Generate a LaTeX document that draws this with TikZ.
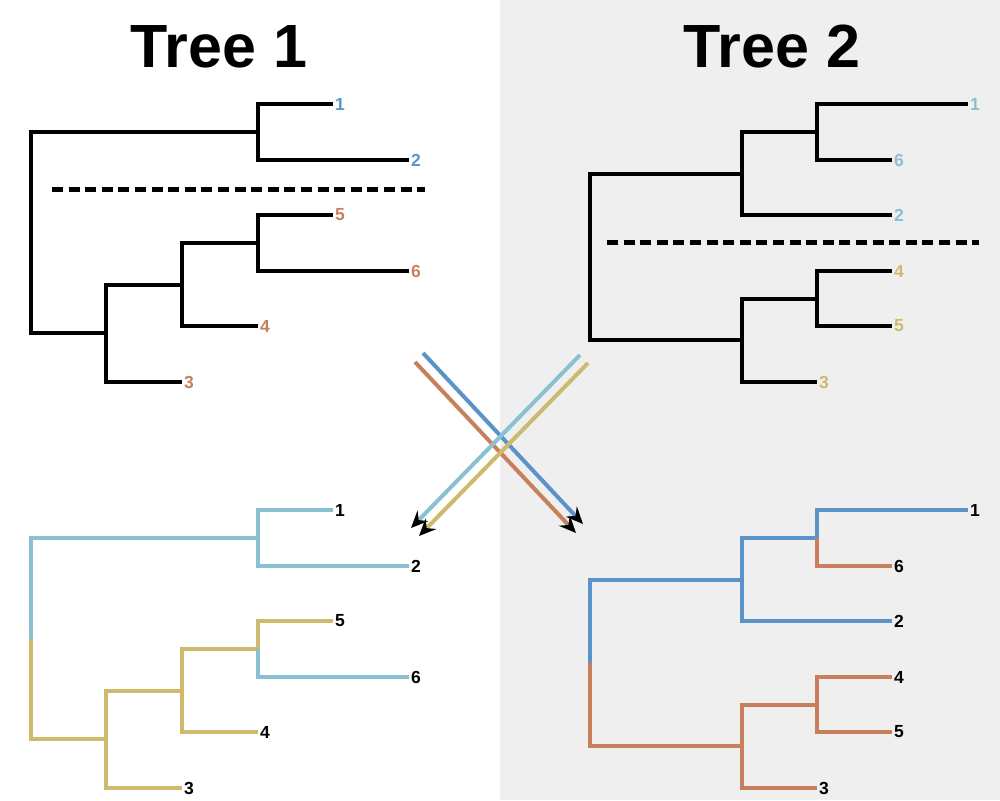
\documentclass[tikz,border=0pt]{standalone}
\usepackage{fontspec}
\setmainfont{Liberation Sans}
\usetikzlibrary{arrows.meta}
\definecolor{cblue}{HTML}{5B93C9}
\definecolor{corange}{HTML}{C8805C}
\definecolor{clight}{HTML}{89C1D2}
\definecolor{cgold}{HTML}{CDBA6C}
\definecolor{bggray}{HTML}{EFEFEF}
\tikzset{
  branch/.style={line width=4pt,line join=miter},
  leaf/.style={anchor=west,inner sep=2pt,font=\fontsize{17.5}{17.5}\selectfont\bfseries},
  title/.style={anchor=base,font=\fontsize{61}{61}\selectfont\bfseries},
  cutline/.style={line width=5pt,dash pattern=on 11pt off 5.6pt},
  swap/.style={line width=4pt,-{Stealth[black,length=17pt,width=15pt,inset=6pt]}}
}
\begin{document}
\begin{tikzpicture}[x=1pt,y=-1pt]
  \useasboundingbox (0,0) rectangle (1000,800);
  \fill[bggray] (500,0) rectangle (1000,800);
  \node[title] (h1) at (219,67) {Tree 1};
  \node[title] (h2) at (772,67) {Tree 2};

  % tree 1, top left
  \coordinate (tR) at (31,232.5);
  \coordinate (tA) at (258,132);
  \coordinate (tB) at (106,332.5);
  \coordinate (tC) at (182,284.5);
  \coordinate (tD) at (258,243);
  \node[leaf,text=cblue] (t1) at (333,104) {1};
  \node[leaf,text=cblue] (t2) at (409,160) {2};
  \node[leaf,text=corange] (t5) at (333,215) {5};
  \node[leaf,text=corange] (t6) at (409,271) {6};
  \node[leaf,text=corange] (t4) at (258,326) {4};
  \node[leaf,text=corange] (t3) at (182,382) {3};
  \draw[branch] (tR) |- (tA) (tR) |- (tB);
  \draw[branch] (tA) |- (t1.west) (tA) |- (t2.west);
  \draw[branch] (tB) |- (tC) (tB) |- (t3.west);
  \draw[branch] (tC) |- (tD) (tC) |- (t4.west);
  \draw[branch] (tD) |- (t5.west) (tD) |- (t6.west);
  \coordinate (tcutA) at (52,189);
  \coordinate (tcutB) at (425,189);
  \draw[cutline] (tcutA) -- (tcutB);

  % tree 2, top right
  \coordinate (uR) at (590,256.5);
  \coordinate (uA) at (742,174);
  \coordinate (uB) at (742,340);
  \coordinate (uE) at (817,132);
  \coordinate (uF) at (817,298.5);
  \node[leaf,text=clight] (u1) at (968,104) {1};
  \node[leaf,text=clight] (u6) at (892,160) {6};
  \node[leaf,text=clight] (u2) at (892,215) {2};
  \node[leaf,text=cgold] (u4) at (892,271) {4};
  \node[leaf,text=cgold] (u5) at (892,326) {5};
  \node[leaf,text=cgold] (u3) at (817,382) {3};
  \draw[branch] (uR) |- (uA) (uR) |- (uB);
  \draw[branch] (uA) |- (uE) (uA) |- (u2.west);
  \draw[branch] (uE) |- (u1.west) (uE) |- (u6.west);
  \draw[branch] (uB) |- (uF) (uB) |- (u3.west);
  \draw[branch] (uF) |- (u4.west) (uF) |- (u5.west);
  \coordinate (ucutA) at (607,242);
  \coordinate (ucutB) at (979,242);
  \draw[cutline] (ucutA) -- (ucutB);

  % tree 1 coloured by the split of tree 2
  \begin{scope}[shift={(0,406)}]
    \coordinate (vR) at (31,232.5);
    \coordinate (vA) at (258,132);
    \coordinate (vB) at (106,332.5);
    \coordinate (vC) at (182,284.5);
    \coordinate (vD) at (258,243);
    \node[leaf] (v1) at (333,104) {1};
    \node[leaf] (v2) at (409,160) {2};
    \node[leaf] (v5) at (333,215) {5};
    \node[leaf] (v6) at (409,271) {6};
    \node[leaf] (v4) at (258,326) {4};
    \node[leaf] (v3) at (182,382) {3};
    \draw[branch,clight] (vR) |- (vA);
    \draw[branch,cgold] (vR) |- (vB);
    \draw[branch,clight] (vA) |- (v1.west) (vA) |- (v2.west);
    \draw[branch,cgold] (vB) |- (vC) (vB) |- (v3.west);
    \draw[branch,cgold] (vC) |- (vD) (vC) |- (v4.west);
    \draw[branch,cgold] (vD) |- (v5.west);
    \draw[branch,clight] (vD) |- (v6.west);
  \end{scope}

  % tree 2 coloured by the split of tree 1
  \begin{scope}[shift={(0,406)}]
    \coordinate (wR) at (590,256.5);
    \coordinate (wA) at (742,174);
    \coordinate (wB) at (742,340);
    \coordinate (wE) at (817,132);
    \coordinate (wF) at (817,298.5);
    \node[leaf] (w1) at (968,104) {1};
    \node[leaf] (w6) at (892,160) {6};
    \node[leaf] (w2) at (892,215) {2};
    \node[leaf] (w4) at (892,271) {4};
    \node[leaf] (w5) at (892,326) {5};
    \node[leaf] (w3) at (817,382) {3};
    \draw[branch,cblue] (wR) |- (wA);
    \draw[branch,corange] (wR) |- (wB);
    \draw[branch,cblue] (wA) |- (wE) (wA) |- (w2.west);
    \draw[branch,cblue] (wE) |- (w1.west);
    \draw[branch,corange] (wE) |- (w6.west);
    \draw[branch,corange] (wB) |- (wF) (wB) |- (w3.west);
    \draw[branch,corange] (wF) |- (w4.west) (wF) |- (w5.west);
  \end{scope}

  % crossing arrows
  \coordinate (aB1) at (423,353);
  \coordinate (aB2) at (583,524);
  \coordinate (aO1) at (415,362);
  \coordinate (aO2) at (576,533);
  \coordinate (aL1) at (580,355);
  \coordinate (aL2) at (411,528);
  \coordinate (aG1) at (588,363);
  \coordinate (aG2) at (419,536);
  \draw[swap,cblue] (aB1) -- (aB2);
  \draw[swap,corange] (aO1) -- (aO2);
  \draw[swap,clight] (aL1) -- (aL2);
  \draw[swap,cgold] (aG1) -- (aG2);
\end{tikzpicture}
\end{document}
